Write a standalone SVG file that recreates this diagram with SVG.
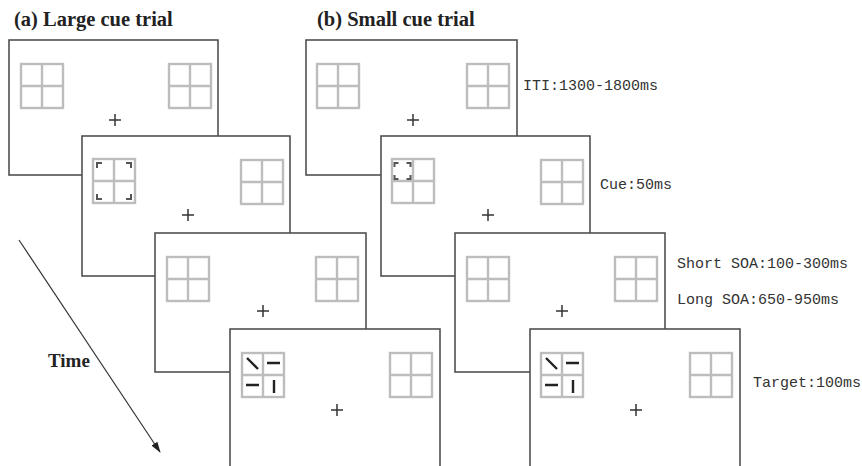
<svg xmlns="http://www.w3.org/2000/svg" xmlns:xlink="http://www.w3.org/1999/xlink" width="862" height="466" viewBox="0 0 862 466">
<style>
.frame{fill:#fff;stroke:#505050;stroke-width:1.6}
.grid{fill:none;stroke:#bdbdbd;stroke-width:2.4}
.cross{stroke:#333;stroke-width:1.5}
.cue{fill:none;stroke:#555;stroke-width:2}
.tgt{stroke:#222;stroke-width:2.4;fill:none}
.title{font-family:"Liberation Serif",serif;font-weight:bold;font-size:20.5px;fill:#222}
.time{font-family:"Liberation Serif",serif;font-weight:bold;font-size:19px;fill:#222}
.lbl{font-family:"Liberation Mono","DejaVu Sans Mono",monospace;font-size:15px;fill:#333}
</style>
<defs>
<g id="grid"><rect x="0" y="0" width="42" height="44"/><line x1="21" y1="0" x2="21" y2="44"/><line x1="0" y1="22" x2="42" y2="22"/></g>
<g id="cross"><line x1="-6" y1="0" x2="6" y2="0"/><line x1="0" y1="-6" x2="0" y2="6"/></g>
<g id="bigcue"><path d="M4,9V4H9M33,4H38V9M4,35V40H9M33,40H38V35"/></g>
<g id="smallcue"><path d="M2.5,8V4H6.5M14.5,4H18.5V8M2.5,16V20H6.5M14.5,20H18.5V16"/></g>
<g id="target"><path d="M5,5L16,16M25,10H38M4,32H17M32,27V40"/></g>
<marker id="arr" markerWidth="11" markerHeight="7" refX="10" refY="3.5" orient="auto" markerUnits="userSpaceOnUse"><path d="M0,0L11,3.5L0,7z" fill="#222"/></marker>
</defs>
<rect width="862" height="466" fill="#fff"/>
<text class="title" x="14" y="26">(a) Large cue trial</text>
<text class="title" x="317" y="26">(b) Small cue trial</text>

<g id="a1"><rect class="frame" x="9" y="40" width="209" height="135"/><use href="#grid" class="grid" x="21" y="64"/><use href="#grid" class="grid" x="169" y="64"/><use href="#cross" class="cross" x="115" y="120"/></g>
<g id="a2"><rect class="frame" x="82" y="136" width="208" height="140"/><use href="#grid" class="grid" x="93" y="159"/><use href="#bigcue" class="cue" x="93" y="159"/><use href="#grid" class="grid" x="241" y="160"/><use href="#cross" class="cross" x="188" y="215"/></g>
<g id="a3"><rect class="frame" x="155" y="233" width="211" height="139"/><use href="#grid" class="grid" x="167" y="257"/><use href="#grid" class="grid" x="316" y="257"/><use href="#cross" class="cross" x="263" y="311"/></g>
<g id="a4"><rect class="frame" x="230" y="329" width="210" height="150"/><use href="#grid" class="grid" x="242" y="353"/><use href="#target" class="tgt" x="242" y="353"/><use href="#grid" class="grid" x="390" y="353"/><use href="#cross" class="cross" x="337" y="410"/></g>

<g id="b1"><rect class="frame" x="306" y="40" width="211" height="135"/><use href="#grid" class="grid" x="317" y="64"/><use href="#grid" class="grid" x="467" y="64"/><use href="#cross" class="cross" x="413" y="120"/></g>
<g id="b2"><rect class="frame" x="381" y="136" width="209" height="140"/><use href="#grid" class="grid" x="392" y="159"/><use href="#smallcue" class="cue" x="392" y="159"/><use href="#grid" class="grid" x="541" y="160"/><use href="#cross" class="cross" x="488" y="215"/></g>
<g id="b3"><rect class="frame" x="455" y="233" width="210" height="139"/><use href="#grid" class="grid" x="467" y="257"/><use href="#grid" class="grid" x="615" y="257"/><use href="#cross" class="cross" x="562" y="311"/></g>
<g id="b4"><rect class="frame" x="530" y="329" width="210" height="150"/><use href="#grid" class="grid" x="541" y="353"/><use href="#target" class="tgt" x="541" y="353"/><use href="#grid" class="grid" x="690" y="353"/><use href="#cross" class="cross" x="636" y="410"/></g>

<g id="labels">
<text class="lbl" x="523" y="90">ITI:1300-1800ms</text>
<text class="lbl" x="600" y="189">Cue:50ms</text>
<text class="lbl" x="677" y="268">Short SOA:100-300ms</text>
<text class="lbl" x="677" y="304">Long SOA:650-950ms</text>
<text class="lbl" x="753" y="387">Target:100ms</text>
</g>

<g id="connectors">
<line x1="19" y1="240" x2="160" y2="452" stroke="#333" stroke-width="1.2" marker-end="url(#arr)"/>
</g>
<text class="time" x="48" y="367">Time</text>
</svg>
